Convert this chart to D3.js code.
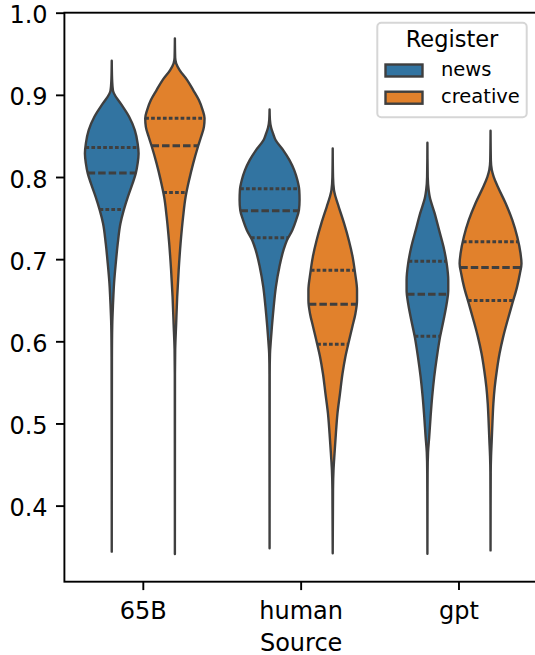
<!DOCTYPE html>
<html>
<head>
<meta charset="utf-8">
<script src="https://cdn.jsdelivr.net/npm/d3@7"></script>
<style>
  body { margin: 0; background: #fff; }
  svg { display: block; font-family: "DejaVu Sans", sans-serif; }
</style>
</head>
<body>
<div id="chart"></div>
<script>
// categories
var sources = ["65B", "human", "gpt"];
var registers = ["news", "creative"];
var yTicks = [0.4, 0.5, 0.6, 0.7, 0.8, 0.9, 1.0];

// density profiles: [value, relative width]
var kde65BNews = [[0.9415,0],[0.92,0.01],[0.905,0.04],[0.9018,0.07],[0.8896,0.28],[0.8733,0.55],[0.8571,0.73],
  [0.8409,0.82],[0.8287,0.85],[0.8166,0.82],[0.8044,0.76],[0.7922,0.66],[0.7759,0.51],[0.7597,0.38],[0.7435,0.275],
  [0.7191,0.19],[0.6948,0.127],[0.6704,0.073],[0.646,0.041],[0.62,0.016],[0.58,0.006],[0.344,0]];
var kde65BCreative = [[0.9688,0],[0.945,0.01],[0.9384,0.04],[0.9302,0.15],[0.918,0.39],[0.9058,0.58],[0.8937,0.76],
  [0.8815,0.88],[0.8714,0.94],[0.8611,0.92],[0.849,0.83],[0.8368,0.73],[0.8166,0.58],[0.7962,0.45],[0.7759,0.34],
  [0.7515,0.26],[0.7191,0.18],[0.6866,0.12],[0.6541,0.073],[0.6217,0.041],[0.59,0.01],[0.56,0.003],[0.341,0]];
var kdeHumanNews = [[0.8823,0],[0.87,0.01],[0.86,0.05],[0.853,0.11],[0.845,0.19],[0.8328,0.43],[0.8206,0.63],
  [0.8084,0.78],[0.7963,0.88],[0.7841,0.94],[0.7719,0.95],[0.7597,0.93],[0.7475,0.84],[0.7353,0.72],[0.7231,0.55],
  [0.711,0.44],[0.6906,0.31],[0.6663,0.2],[0.642,0.13],[0.6175,0.073],[0.6013,0.041],[0.585,0.013],[0.56,0.004],[0.348,0]];
var kdeHumanCreative = [[0.8348,0],[0.80,0.01],[0.784,0.04],[0.7759,0.09],[0.7637,0.19],[0.7435,0.36],[0.7231,0.51],
  [0.7028,0.63],[0.6826,0.71],[0.6622,0.77],[0.65,0.77],[0.6339,0.72],[0.6175,0.62],[0.6013,0.52],[0.581,0.4],
  [0.5608,0.31],[0.5364,0.23],[0.512,0.15],[0.4877,0.1],[0.4633,0.057],[0.443,0.025],[0.42,0.01],[0.342,0]];
var kdeGptNews = [[0.8417,0],[0.80,0.01],[0.784,0.04],[0.7759,0.073],[0.7557,0.23],[0.7353,0.37],[0.715,0.51],
  [0.6948,0.61],[0.6744,0.66],[0.6622,0.66],[0.646,0.61],[0.6257,0.51],[0.6054,0.4],[0.581,0.3],[0.5566,0.215],
  [0.5323,0.15],[0.5079,0.1],[0.4836,0.057],[0.465,0.02],[0.44,0.006],[0.3414,0]];
var kdeGptCreative = [[0.8563,0],[0.82,0.01],[0.8084,0.04],[0.8002,0.1],[0.7881,0.23],[0.7678,0.48],[0.7475,0.69],
  [0.7272,0.845],[0.7069,0.95],[0.6948,0.98],[0.6826,0.93],[0.6663,0.84],[0.646,0.69],[0.6257,0.54],[0.6054,0.4],
  [0.5851,0.285],[0.5648,0.2],[0.5445,0.133],[0.5242,0.089],[0.5039,0.063],[0.48,0.038],[0.46,0.016],[0.44,0.006],[0.3455,0]];

// quartiles [q25, median, q75]
var q65BNews = [0.7605, 0.805, 0.836];
var q65BCreative = [0.781, 0.838, 0.8714];
var qHumanNews = [0.726, 0.7588, 0.7856];
var qHumanCreative = [0.5965, 0.6452, 0.6866];
var qGptNews = [0.6062, 0.6574, 0.6976];
var qGptCreative = [0.6497, 0.6899, 0.7211];

var violins = [
  {source:"65B", register:"news", kde:kde65BNews, q:q65BNews},
  {source:"65B", register:"creative", kde:kde65BCreative, q:q65BCreative},
  {source:"human", register:"news", kde:kdeHumanNews, q:qHumanNews},
  {source:"human", register:"creative", kde:kdeHumanCreative, q:qHumanCreative},
  {source:"gpt", register:"news", kde:kdeGptNews, q:qGptNews},
  {source:"gpt", register:"creative", kde:kdeGptCreative, q:qGptCreative}
];

var size = {width:535, height:655, left:64.4, right:537.9, top:12.7, bottom:581.7};
var colors = {news:"#3274a1", creative:"#e1812c"};
var edge = "#3f3f3f";

var svg = d3.select("#chart").append("svg")
  .attr("width", size.width)
  .attr("height", size.height);

var x = d3.scaleBand().domain(sources).range([size.left, size.right]).padding(0);
var xHue = d3.scaleBand().domain(registers).range([0, x.bandwidth()]).paddingInner(0).paddingOuter(0.25);
var y = d3.scaleLinear().domain([0.3074, 1.0]).range([size.bottom, size.top]);
var w = d3.scaleLinear().domain([0, 1]).range([0, xHue.bandwidth() / 2]);

var g = svg.append("g");

violins.forEach(function(v) {
  var cx = x(v.source) + xHue(v.register) + xHue.bandwidth() / 2;
  var area = d3.area()
    .y(function(d) { return y(d[0]); })
    .x0(function(d) { return cx - w(d[1]); })
    .x1(function(d) { return cx + w(d[1]); })
    .curve(d3.curveMonotoneY);

  g.append("path")
    .datum(v.kde)
    .attr("d", area)
    .attr("fill", colors[v.register])
    .attr("stroke", edge)
    .attr("stroke-width", 2.4)
    .attr("stroke-linejoin", "round");

  // width of the violin at a value, interpolated along the profile
  var asc = v.kde.slice().sort(function(a, b) { return a[0] - b[0]; });
  function widthAt(val) {
    var i = d3.bisector(function(d) { return d[0]; }).left(asc, val);
    var a = asc[i - 1], b = asc[i];
    var t = (val - a[0]) / (b[0] - a[0]);
    return a[1] + t * (b[1] - a[1]);
  }

  v.q.forEach(function(qv, i) {
    var hw = w(widthAt(qv));
    g.append("line")
      .attr("x1", cx - hw).attr("x2", cx + hw)
      .attr("y1", y(qv)).attr("y2", y(qv))
      .attr("stroke", edge)
      .attr("stroke-width", 3)
      .attr("stroke-dasharray", i == 1 ? "7.5,3" : "3.7,2.2");
  });
});

// axes
var yAxis = svg.append("g")
  .attr("transform", "translate(" + size.left + ",0)")
  .call(d3.axisLeft(y).tickValues(yTicks).tickFormat(d3.format(".1f")).tickSize(8.4).tickPadding(8.4).tickSizeOuter(0));
var xAxis = svg.append("g")
  .attr("transform", "translate(0," + size.bottom + ")")
  .call(d3.axisBottom(x).tickSize(8.4).tickPadding(12.3).tickSizeOuter(0));

[yAxis, xAxis].forEach(function(a) {
  a.select(".domain").remove();
  a.selectAll("line").attr("stroke", "#000").attr("stroke-width", 1.9);
  a.selectAll("text").attr("fill", "#000").style("font-size", "24px").style("font-family", "DejaVu Sans");
});
yAxis.selectAll("text").attr("dy", "0.42em");

// spines
svg.append("rect")
  .attr("x", size.left).attr("y", size.top)
  .attr("width", size.right - size.left).attr("height", size.bottom - size.top)
  .attr("fill", "none").attr("stroke", "#000").attr("stroke-width", 1.9);

svg.append("text")
  .attr("x", x("human") + x.bandwidth() / 2)
  .attr("y", 650.5)
  .attr("text-anchor", "middle")
  .style("font-size", "24px")
  .text("Source");

// legend
var legend = svg.append("g");
legend.append("rect")
  .attr("x", 377.3).attr("y", 22.7).attr("width", 149.4).attr("height", 94.6)
  .attr("rx", 4).attr("fill", "#fff").attr("fill-opacity", 0.8)
  .attr("stroke", "#d6d6d6").attr("stroke-width", 2);
legend.append("text")
  .attr("x", 452).attr("y", 47.3)
  .attr("text-anchor", "middle")
  .style("font-size", "22.5px")
  .text("Register");
registers.forEach(function(r, i) {
  var ly = 64.5 + i * 27.2;
  legend.append("rect")
    .attr("x", 385.5).attr("y", ly).attr("width", 37).attr("height", 12)
    .attr("fill", colors[r]).attr("stroke", edge).attr("stroke-width", 2.4);
  legend.append("text")
    .attr("x", 441).attr("y", ly + 11.5)
    .style("font-size", "19.5px")
    .text(r);
});
</script>
</body>
</html>
